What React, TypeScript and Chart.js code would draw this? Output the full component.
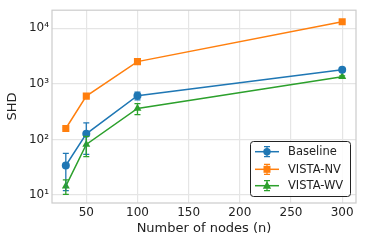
import React, { useEffect, useRef } from "react";
import { Chart, registerables } from "chart.js";

Chart.register(...registerables);

const nodes = [30, 50, 100, 300];
const baseline = [34, 126, 610, 1780];
const baselineErr = [22, 72, 95, 60];
const vistaNV = [157, 600, 2500, 13000];
const vistaNVErr = [6, 25, 90, 400];
const vistaWV = [14.5, 81, 360, 1340];
const vistaWVErr = [4.2, 32, 80, 50];
const xTicks = [50, 100, 150, 200, 250, 300];
const yTicks = [10, 100, 1000, 10000];
const supers: Record<string, string> = { "1": "¹", "2": "²", "3": "³", "4": "⁴" };

const COLORS = ["#1f77b4", "#ff7f0e", "#2ca02c"];
const MARKERS = ["circle", "rect", "triangle"];
const RADII = [4, 5, 4.6];
const FONT = "'DejaVu Sans', sans-serif";

const errorBarPlugin = {
  id: "errbars",
  afterDatasetsDraw(chart: any) {
    const ctx = chart.ctx;
    const xs = chart.scales.x;
    const ys = chart.scales.y;
    chart.data.datasets.forEach((ds: any) => {
      const vals: number[] = ds.values;
      const errs: number[] = ds.errors;
      ctx.save();
      ctx.strokeStyle = ds.borderColor;
      ctx.lineWidth = 1.3;
      vals.forEach((v: number, i: number) => {
        const x = xs.getPixelForValue(nodes[i]);
        const yt = ys.getPixelForValue(v + errs[i]);
        const yb = ys.getPixelForValue(Math.max(v - errs[i], 0.1));
        ctx.beginPath();
        ctx.moveTo(x, yt);
        ctx.lineTo(x, yb);
        ctx.moveTo(x - 3, yt);
        ctx.lineTo(x + 3, yt);
        ctx.moveTo(x - 3, yb);
        ctx.lineTo(x + 3, yb);
        ctx.stroke();
      });
      ctx.restore();
    });
  },
};

const frameLegendPlugin = {
  id: "frameLegend",
  beforeDatasetsDraw(chart: any) {
    const { ctx, chartArea: a } = chart;
    ctx.save();
    ctx.strokeStyle = "#cccccc";
    ctx.lineWidth = 1.2;
    ctx.strokeRect(a.left, a.top, a.right - a.left, a.bottom - a.top);
    ctx.restore();
  },
  afterDraw(chart: any) {
    const ctx = chart.ctx;
    const bx = 250.5, by = 141.5, bw = 100, bh = 55;
    ctx.save();
    ctx.fillStyle = "rgba(255,255,255,0.85)";
    ctx.strokeStyle = "#222222";
    ctx.lineWidth = 1;
    ctx.beginPath();
    (ctx as any).roundRect(bx, by, bw, bh, 3);
    ctx.fill();
    ctx.stroke();
    const rows = [151.7, 169.3, 185.7];
    chart.data.datasets.forEach((ds: any, i: number) => {
      const y = rows[i];
      const x0 = 255, x1 = 279, xm = 267;
      ctx.strokeStyle = ds.borderColor;
      ctx.fillStyle = ds.borderColor;
      ctx.lineWidth = 1.5;
      ctx.beginPath();
      ctx.moveTo(x0, y);
      ctx.lineTo(x1, y);
      ctx.stroke();
      ctx.lineWidth = 1.2;
      ctx.beginPath();
      ctx.moveTo(xm, y - 5);
      ctx.lineTo(xm, y + 5);
      ctx.moveTo(xm - 3, y - 5);
      ctx.lineTo(xm + 3, y - 5);
      ctx.moveTo(xm - 3, y + 5);
      ctx.lineTo(xm + 3, y + 5);
      ctx.stroke();
      ctx.beginPath();
      if (i === 0) ctx.arc(xm, y, 3.7, 0, Math.PI * 2);
      else if (i === 1) ctx.rect(xm - 3.5, y - 3.5, 7, 7);
      else {
        ctx.moveTo(xm, y - 4.5);
        ctx.lineTo(xm + 4.2, y + 3);
        ctx.lineTo(xm - 4.2, y + 3);
        ctx.closePath();
      }
      ctx.fill();
      ctx.fillStyle = "#222222";
      ctx.font = `11.5px ${FONT}`;
      ctx.textBaseline = "middle";
      ctx.textAlign = "left";
      ctx.fillText(ds.label, 288, y + 0.5);
    });
    ctx.restore();
  },
};

export default function App() {
  const ref = useRef<HTMLCanvasElement>(null);
  useEffect(() => {
    const mk = (label: string, values: number[], errors: number[], i: number) => ({
      label,
      data: values.map((v, k) => ({ x: nodes[k], y: v })),
      values,
      errors,
      showLine: true,
      borderColor: COLORS[i],
      backgroundColor: COLORS[i],
      pointStyle: MARKERS[i],
      pointRadius: RADII[i],
      pointBorderWidth: 0,
      borderWidth: 1.5,
      tension: 0,
    });
    const datasets: any[] = [
      mk("Baseline", baseline, baselineErr, 0),
      mk("VISTA-NV", vistaNV, vistaNVErr, 1),
      mk("VISTA-WV", vistaWV, vistaWVErr, 2),
    ];
    const chart = new Chart(ref.current!, {
      type: "scatter",
      data: { datasets } as any,
      plugins: [errorBarPlugin, frameLegendPlugin],
      options: {
        animation: false,
        responsive: false,
        layout: { padding: { top: 9, right: 9, left: 5, bottom: 7 } },
        plugins: { legend: { display: false }, tooltip: { enabled: false } },
        scales: {
          x: {
            type: "linear",
            min: 16.5,
            max: 313.5,
            afterBuildTicks: (s: any) => {
              s.ticks = xTicks.map((v) => ({ value: v }));
            },
            afterFit: (s: any) => {
              s.height = 33;
            },
            grid: { color: "#e5e5e5", lineWidth: 1.2, drawTicks: false },
            border: { display: false },
            ticks: {
              color: "#222222",
              padding: 3,
              font: { family: FONT, size: 12 },
              maxRotation: 0,
              callback: (v: any) => String(v),
            },
            title: {
              display: true,
              text: "Number of nodes (n)",
              color: "#222222",
              font: { family: FONT, size: 13 },
              padding: { top: 0, bottom: 0 },
            },
          },
          y: {
            type: "logarithmic",
            min: 7.2,
            max: 21000,
            afterBuildTicks: (s: any) => {
              s.ticks = yTicks.map((v) => ({ value: v }));
            },
            afterFit: (s: any) => {
              s.width = 47;
            },
            grid: { color: "#e5e5e5", lineWidth: 1.2, drawTicks: false },
            border: { display: false },
            ticks: {
              color: "#222222",
              padding: 3,
              font: { family: FONT, size: 12 },
              callback: (v: any) => {
                const e = Math.round(Math.log10(Number(v)));
                return "10" + supers[String(e)];
              },
            },
            title: {
              display: true,
              text: "SHD",
              color: "#222222",
              font: { family: FONT, size: 13 },
              padding: { top: 0, bottom: 0 },
            },
          },
        },
      },
    });
    return () => chart.destroy();
  }, []);
  return (
    <div style={{ position: "fixed", left: 0, top: 0, width: 365, height: 243, background: "#fff" }}>
      <canvas ref={ref} width={365} height={243} style={{ width: 365, height: 243 }} />
    </div>
  );
}
